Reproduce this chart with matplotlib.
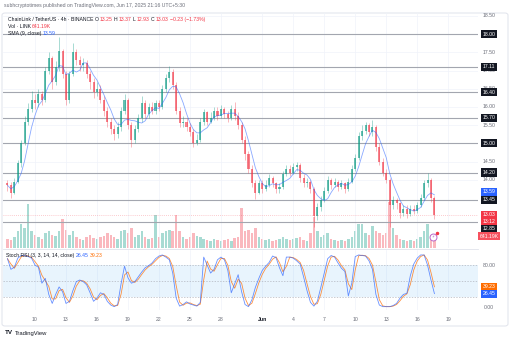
import numpy as np
import pandas as pd
import matplotlib
matplotlib.use("Agg")
import matplotlib.pyplot as plt
from matplotlib.patches import FancyBboxPatch

plt.rcParams['font.family'] = ['Liberation Sans', 'DejaVu Sans']

t_start = 7 + 1/3
closes = [13.85, 13.65, 13.95, 14.45, 15.0, 15.6, 15.95, 16.2, 16.1, 16.35,
          16.2, 17.0, 17.35, 16.7, 17.1, 17.55, 16.9, 16.2, 16.9, 17.5,
          17.3, 17.15, 17.2, 16.9, 16.7, 16.4, 16.5, 16.2, 15.9, 15.6,
          15.4, 15.25, 15.45, 15.9, 16.2, 15.5, 15.1, 15.4, 15.7, 16.1,
          15.8, 16.0, 15.9, 16.1, 16.0, 16.5, 16.8, 16.95, 16.6, 15.9,
          15.55, 15.6, 15.45, 15.3, 15.0, 15.1, 15.6, 15.85, 15.6, 15.7,
          15.9, 15.75, 15.95, 15.8, 15.7, 15.95, 15.75, 15.5, 15.1, 14.7,
          14.3, 13.9, 13.65, 13.9, 13.75, 13.85, 14.05, 13.9, 13.75, 13.8,
          14.15, 14.3, 14.2, 14.35, 14.4, 14.05, 13.9, 13.95, 13.75, 13.0,
          13.25, 13.45, 13.7, 14.0, 13.85, 13.95, 13.8, 13.9, 13.75, 13.95,
          14.3, 14.6, 15.2, 15.35, 15.5, 15.3, 15.45, 14.9, 14.5, 14.2,
          14.0, 13.3, 13.45, 13.35, 13.1, 13.2, 13.05, 13.2, 13.15, 13.3,
          13.5, 13.9, 14.0, 13.5, 13.03]
highs = [14.0, 13.95, 14.05, 14.55, 15.1, 15.75, 16.1, 16.45, 16.35, 16.5,
         16.45, 17.1, 17.5, 17.4, 17.25, 17.92, 17.6, 17.0, 17.0, 17.76,
         17.6, 17.4, 17.35, 17.3, 17.0, 16.8, 16.7, 16.6, 16.3, 16.0,
         15.7, 15.5, 15.6, 16.0, 16.35, 16.25, 15.6, 15.5, 15.8, 16.3,
         16.2, 16.1, 16.15, 16.2, 16.2, 16.6, 16.9, 17.13, 17.05, 16.7,
         16.0, 15.75, 15.7, 15.55, 15.4, 15.25, 15.7, 15.95, 15.9, 15.85,
         16.0, 16.0, 16.05, 16.0, 15.9, 16.05, 16.14, 15.85, 15.6, 15.2,
         14.8, 14.4, 14.0, 14.0, 14.0, 14.0, 14.15, 14.1, 13.95, 13.9,
         14.25, 14.4, 14.4, 14.45, 14.5, 14.45, 14.15, 14.05, 14.0, 13.8,
         13.35, 13.55, 13.8, 14.1, 14.05, 14.05, 14.0, 14.0, 13.95, 14.05,
         14.4, 14.7, 15.3, 15.5, 15.6, 15.55, 15.65, 15.5, 15.0, 14.6,
         14.3, 14.05, 13.55, 13.5, 13.4, 13.3, 13.3, 13.3, 13.3, 13.4,
         13.6, 14.0, 14.2, 14.05, 13.55]
lows = [13.7, 13.5, 13.6, 13.9, 14.35, 14.95, 15.5, 15.85, 15.95, 16.0,
        16.05, 16.15, 16.9, 16.5, 16.6, 17.0, 16.8, 16.05, 16.1, 16.85,
        17.15, 17.0, 17.0, 16.8, 16.5, 16.25, 16.3, 16.1, 15.75, 15.45,
        15.25, 15.1, 15.15, 15.35, 15.8, 15.4, 14.9, 15.0, 15.3, 15.6,
        15.7, 15.7, 15.8, 15.8, 15.9, 15.95, 16.4, 16.7, 16.5, 15.8,
        15.45, 15.45, 15.35, 15.2, 14.9, 14.95, 15.05, 15.5, 15.5, 15.55,
        15.65, 15.65, 15.7, 15.7, 15.6, 15.65, 15.65, 15.4, 15.0, 14.55,
        14.2, 13.8, 13.46, 13.6, 13.65, 13.7, 13.8, 13.8, 13.65, 13.65,
        13.75, 14.1, 14.1, 14.15, 14.25, 13.95, 13.8, 13.8, 13.65, 12.7,
        12.9, 13.15, 13.4, 13.65, 13.75, 13.8, 13.7, 13.75, 13.65, 13.7,
        13.9, 14.25, 14.55, 15.1, 15.25, 15.2, 15.2, 14.8, 14.4, 14.1,
        13.9, 12.7, 13.2, 13.2, 12.95, 13.0, 12.95, 13.0, 13.05, 13.1,
        13.25, 13.45, 13.8, 13.4, 12.93]
first_open = 13.90
volumes = [500, 450, 600, 900, 1300, 1100, 2400, 900, 700, 600,
           500, 800, 900, 700, 650, 900, 1600, 1000, 700, 900,
           600, 500, 450, 600, 700, 550, 500, 600, 650, 800,
           700, 600, 500, 900, 1000, 800, 1100, 600, 700, 900,
           600, 500, 550, 1800, 600, 800, 900, 1000, 900, 1800,
           900, 600, 500, 600, 800, 650, 600, 500, 450, 400,
           500, 450, 400, 450, 500, 400, 550, 600, 2200, 900,
           1000, 800, 1100, 600, 500, 450, 500, 400, 450, 500,
           600, 500, 450, 500, 550, 600, 450, 400, 800, 1700,
           900, 600, 700, 800, 500, 450, 400, 450, 400, 500,
           600, 900, 1300, 1300, 800, 700, 1200, 900, 800, 700,
           800, 2500, 1100, 700, 500, 450, 400, 450, 400, 500,
           600, 900, 1300, 700, 641.19]  # thousands of LINK
stoch_k = [92, 72, 76, 93, 98, 98, 96, 93, 80, 76,
           46, 55, 25, 8, 25, 39, 30, 8, 12, 32,
           49, 52, 49, 43, 28, 12, 18, 28, 25, 12,
           5, 2, 6, 45, 78, 56, 46, 49, 58, 67,
           75, 79, 84, 92, 97, 99, 95, 90, 65, 18,
           3, 6, 11, 7, 5, 3, 10, 95, 80, 65,
           72, 90, 95, 90, 70, 28, 45, 62, 30, 6,
           2, 15, 38, 55, 70, 78, 85, 97, 94, 75,
           60, 95, 95, 93, 88, 82, 58, 32, 10, 3,
           12, 38, 65, 92, 98, 95, 84, 74, 68, 22,
           46, 96, 99, 98, 97, 88, 72, 25, 5, 2,
           2, 2, 4, 8, 18, 25, 27, 60, 82, 93,
           99, 99, 80, 52, 26.45]
levels = [18.00, 17.11, 16.40, 15.70, 15.00, 14.20, 13.45, 12.85]
price_ticks = [14.00, 14.50, 15.00, 15.50, 16.00, 16.50, 17.00, 17.50, 18.00, 18.50]
date_pos = [10, 13, 16, 19, 22, 25, 28, 32, 35, 38, 41, 44, 47, 50]
date_lbl = ['10', '13', '16', '19', '22', '25', '28', 'Jun', '4', '7', '10', '13', '16', '19']

UP, DN = '#089981', '#F23645'
BLUE, ORANGE = '#2962FF', '#FF6D00'
TXT, GREY = '#131722', '#6a6d78'

n = len(closes)
t = t_start + np.arange(n) / 3
c = np.array(closes)
o = np.array([first_open] + closes[:-1])
up = c >= o
cols = np.where(up, UP, DN)
sma = pd.Series(closes).rolling(5, min_periods=1).mean()
stoch_d = pd.Series(stoch_k).rolling(2, min_periods=1).mean()

W, H = 512, 341
fig = plt.figure(figsize=(W / 100, H / 100), dpi=100)
fig.patch.set_facecolor('white')

def px(x0, y0, x1, y1):
    return [x0 / W, 1 - y1 / H, (x1 - x0) / W, (y1 - y0) / H]

xlim = (6.902, 52.885)
ax = fig.add_axes(px(3, 13, 478, 248))
vax = ax.twinx()
ax.set_zorder(vax.get_zorder() + 1)
ax.patch.set_visible(False)
sax = fig.add_axes(px(3, 250, 478, 310))

# volume behind candles
vax.bar(t, volumes, width=0.24, color=cols, alpha=0.35, linewidth=0)
vax.set_ylim(0, 12800)
vax.axis('off')

# candles (thin, pale like the downsampled 4h bars)
ax.vlines(t, lows, highs, colors=cols, lw=0.45, alpha=0.55)
ax.bar(t, np.maximum(np.abs(c - o), 0.02), bottom=np.minimum(o, c), width=0.2,
       color=cols, alpha=0.62, linewidth=0)
ax.plot(t, sma, color=BLUE, lw=0.6, alpha=0.55)

for lv in levels:
    ax.axhline(lv, color='#a3a6af', lw=0.8, zorder=0.5)
ax.axhline(closes[-1], color=DN, lw=0.6, ls=(0, (1, 1.5)), alpha=0.35)
for p in price_ticks:
    ax.axhline(p, color='#f0f3fa', lw=0.5, zorder=0)
for d in date_pos:
    ax.axvline(d, color='#f0f3fa', lw=0.5, zorder=0)
    sax.axvline(d, color='#f0f3fa', lw=0.5, zorder=0)

ax.plot(48.53, 12.43, 'o', ms=5, mfc='white', mec='#ba68c8', mew=0.7)
ax.text(48.53, 12.43, '⚡', fontsize=3, color='#ba68c8', ha='center', va='center',
        family='DejaVu Sans')
ax.plot(48.95, 12.55, 'o', ms=1.5, color=DN)

ax.set_xlim(*xlim)
ax.set_ylim(12.126, 18.582)
for a in (ax, sax):
    a.set_xticks([])
    a.set_yticks([])
    for s in a.spines.values():
        s.set_visible(False)

# stoch rsi panel
sax.axhspan(20, 80, color='#2196F3', alpha=0.1, lw=0)
for lv in (80, 50, 20):
    sax.axhline(lv, color='#b2b5be', lw=0.5, ls=(0, (2, 2)))
sax.plot(t, stoch_d, color=ORANGE, lw=0.6, alpha=0.75)
sax.plot(t, stoch_k, color=BLUE, lw=0.6, alpha=0.7)
sax.set_xlim(*xlim)
sax.set_ylim(-4.3, 108.3)

# separator between panels
fig.add_artist(plt.Line2D([3 / W, 478 / W], [1 - 249 / H] * 2, color='#e0e3eb', lw=0.6))

# right-hand price scale
FS = 3.7
ytr = ax.get_yaxis_transform()
for p in price_ticks:
    ax.text(1.023, p, f'{p:.2f}', transform=ytr, fontsize=FS, color=GREY,
            ha='center', va='center', clip_on=False)

def tag(a, y, s, fc, tc='white'):
    a.text(1.023, y, s, transform=a.get_yaxis_transform(), fontsize=FS, color=tc,
           ha='center', va='center', clip_on=False, zorder=5, linespacing=1.3,
           bbox=dict(boxstyle='square,pad=0.3', fc=fc, ec='none'))

for lv in levels:
    yl = {12.85: 12.65}.get(lv, lv)
    tag(ax, yl, f'{lv:.2f}', '#131722')
tag(ax, 13.67, f'{sma.iloc[-1]:.2f}', BLUE)
tag(ax, 12.95, f'{closes[-1]:.2f}\n13:12', DN)
tag(ax, 12.45, f'{volumes[-1]:.2f}K', '#f7525f')

for v in (80, 0):
    sax.text(1.023, v, f'{v:.2f}', transform=sax.get_yaxis_transform(), fontsize=FS,
             color=GREY, ha='center', va='center', clip_on=False)
tag(sax, stoch_d.iloc[-1], f'{stoch_d.iloc[-1]:.2f}', ORANGE)
tag(sax, stoch_k[-1], f'{stoch_k[-1]:.2f}', BLUE)

# date labels
for d, lb in zip(date_pos, date_lbl):
    sax.text(d, -0.16, lb, transform=sax.get_xaxis_transform(), fontsize=FS,
             color=TXT if lb == 'Jun' else GREY, weight='bold' if lb == 'Jun' else 'normal',
             ha='center', va='center', clip_on=False)

# header text pieces placed one after another
rend = fig.canvas.get_renderer()

def parts(x, y, items, gap=1.2):
    x = x / W
    for s, col in items:
        tx = fig.text(x, 1 - y / H, s, fontsize=FS, color=col, va='center', ha='left')
        x += tx.get_window_extent(renderer=rend).width / fig.bbox.width + gap / W

parts(4, 6, [('subhcryptotimes published on TradingView.com, Jun 17, 2025 21:16 UTC+5:30', GREY)])
parts(8, 19.3, [('ChainLink / TetherUS · 4h · BINANCE', TXT), ('O', TXT), ('13.25', DN),
                ('H', TXT), ('13.37', DN), ('L', TXT), ('12.93', DN), ('C', TXT),
                ('13.03', DN), ('−0.23 (−1.73%)', DN)])
parts(8, 26.7, [('Vol · LINK', TXT), (f'{volumes[-1]:.2f}K', DN)])
parts(8, 33.7, [('SMA (9, close)', TXT), (f'{sma.iloc[-1]:.2f}', BLUE)])
parts(6, 255.7, [('Stoch RSI (3, 3, 14, 14, close)', TXT), (f'{stoch_k[-1]:.2f}', BLUE),
                 (f'{stoch_d.iloc[-1]:.2f}', ORANGE)])

fig.text(5 / W, 1 - 333 / H, 'TV', fontsize=4.5, weight='bold', color=TXT, va='center')
fig.text(15 / W, 1 - 333 / H, 'TradingView', fontsize=4.2, color=TXT, va='center')

fig.add_artist(FancyBboxPatch((2 / W, 1 - 326 / H), 506 / W, 313 / H,
                              boxstyle='round,pad=0,rounding_size=0.006',
                              transform=fig.transFigure, fc='none', ec='#e0e3eb', lw=0.7))

fig.savefig('out.png', dpi=100)
